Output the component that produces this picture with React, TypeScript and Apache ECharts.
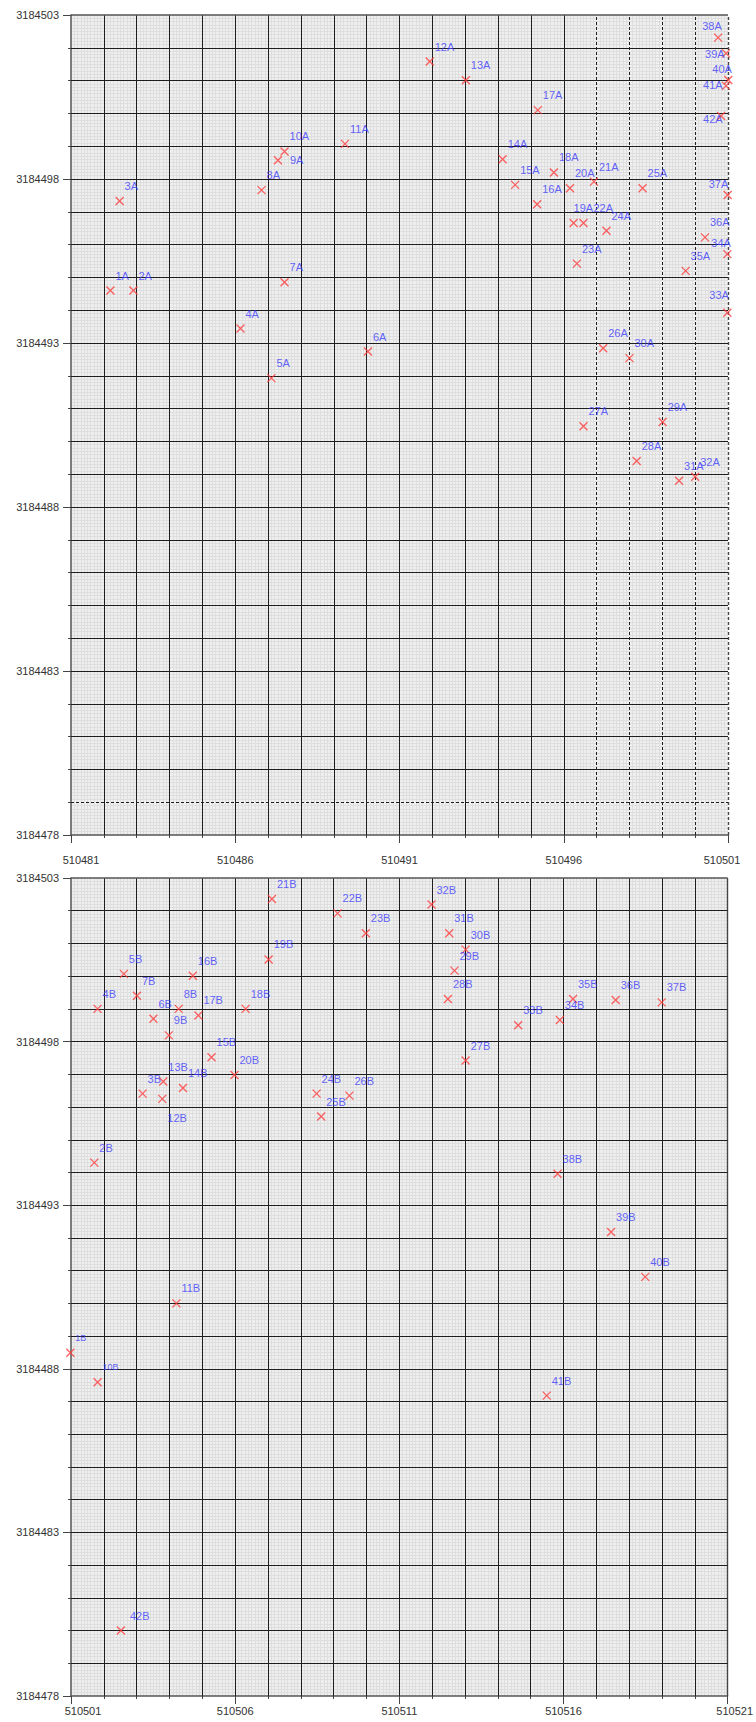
import React, { useEffect, useRef } from "react";
import * as echarts from "echarts";

// ---- Data ----
const topNames = ["1A","2A","3A","4A","5A","6A","7A","8A","9A","10A","11A","12A","13A","14A","15A","16A","17A","18A","19A","20A","21A","22A","23A","24A","25A","26A","27A","28A","29A","30A","31A","32A","33A","34A","35A","36A","37A","38A","39A","40A","41A","42A"];
const topX = [510482.20, 510482.90, 510482.48, 510486.16, 510487.10, 510490.04, 510487.50, 510486.80, 510487.30, 510487.50, 510489.34, 510491.92, 510493.02, 510494.14, 510494.52, 510495.19, 510495.21, 510495.70, 510496.30, 510496.19, 510496.92, 510496.60, 510496.40, 510497.30, 510498.40, 510497.20, 510496.60, 510498.22, 510499.01, 510498.00, 510499.51, 510500.00, 510500.98, 510500.98, 510499.71, 510500.30, 510500.99, 510500.70, 510500.94, 510501.01, 510500.94, 510500.79];
const topY = [3184494.60, 3184494.60, 3184497.33, 3184493.44, 3184491.93, 3184492.74, 3184494.85, 3184497.66, 3184498.57, 3184498.84, 3184499.07, 3184501.58, 3184501.01, 3184498.60, 3184497.82, 3184497.23, 3184500.10, 3184498.20, 3184496.66, 3184497.72, 3184497.92, 3184496.66, 3184495.42, 3184496.42, 3184497.72, 3184492.84, 3184490.46, 3184489.40, 3184490.59, 3184492.54, 3184488.80, 3184488.92, 3184493.92, 3184495.71, 3184495.20, 3184496.22, 3184497.51, 3184502.31, 3184501.83, 3184501.02, 3184500.84, 3184499.92];

const botNames = ["1B","2B","3B","4B","5B","6B","7B","8B","9B","10B","11B","12B","13B","14B","15B","16B","17B","18B","19B","20B","21B","22B","23B","24B","25B","26B","27B","28B","29B","30B","31B","32B","33B","34B","35B","36B","37B","38B","39B","40B","41B","42B"];
const botX = [510500.98, 510501.71, 510503.18, 510501.81, 510502.61, 510503.51, 510503.01, 510504.28, 510503.98, 510501.81, 510504.21, 510503.78, 510503.81, 510504.41, 510505.28, 510504.71, 510504.88, 510506.32, 510507.02, 510505.98, 510507.12, 510509.12, 510509.98, 510508.48, 510508.62, 510509.48, 510513.02, 510512.48, 510512.68, 510513.02, 510512.52, 510511.98, 510514.62, 510515.89, 510516.29, 510517.59, 510518.99, 510515.82, 510517.45, 510518.49, 510515.49, 510502.52];
const botY = [3184488.49, 3184494.30, 3184496.41, 3184499.00, 3184500.07, 3184498.70, 3184499.40, 3184499.00, 3184498.19, 3184487.59, 3184490.00, 3184496.25, 3184496.78, 3184496.58, 3184497.52, 3184500.01, 3184498.80, 3184499.00, 3184500.51, 3184496.98, 3184502.36, 3184501.92, 3184501.31, 3184496.41, 3184495.71, 3184496.35, 3184497.42, 3184499.30, 3184500.17, 3184500.81, 3184501.31, 3184502.19, 3184498.50, 3184498.66, 3184499.30, 3184499.27, 3184499.20, 3184493.96, 3184492.18, 3184490.81, 3184487.18, 3184480.00];

// axis ranges
const topXRange = [510481, 510501];
const botXRange = [510501, 510521];
const yRange = [3184478, 3184503];
const labelStep = 5;
// dashed grid lines in the upper panel
const topDashedX = [510497, 510498, 510499, 510500, 510501];
const topDashedY = [3184479];

// ---- Styles ----
const FONT = "Arial, 'Liberation Sans', sans-serif";
const LABEL_COLOR = "#3b3bff";
const MARK_COLOR = "#ff3b3b";
const DEFAULT_OFFSET = [5, -15];
const labelOffsets: Record<string, number[]> = {
  "9A": [12, 0],
  "19A": [0, -15],
  "22A": [10, -15],
  "33A": [-18, -18],
  "34A": [-16, -11],
  "37A": [-19, -11],
  "38A": [-16, -12],
  "39A": [-21, 1],
  "40A": [-16, -11],
  "41A": [-23, -1],
  "42A": [-18, 3],
  "12B": [5, 19],
  "42B": [9, -15],
};
const smallLabels: Record<string, number> = { "1B": 9, "10B": 9 };

const GRIDS = [
  { left: 71, top: 15, width: 657, height: 820 },
  { left: 71, top: 878, width: 659, height: 818 },
];

function buildPoints(names: string[], xs: number[], ys: number[]) {
  return names.map((n, i) => {
    const item: any = { name: n, value: [xs[i], ys[i]] };
    const off = labelOffsets[n];
    const fs = smallLabels[n];
    if (off || fs) {
      item.label = {};
      if (off) item.label.offset = off;
      if (fs) item.label.fontSize = fs;
    }
    return item;
  });
}

function gridLines(xr: number[], yr: number[], dashedX: number[], dashedY: number[]) {
  const lines: any[] = [];
  for (let v = xr[0] + 1; v <= xr[1]; v++) {
    const dashed = dashedX.indexOf(v) >= 0;
    const border = v === xr[1];
    lines.push({
      xAxis: v,
      lineStyle: {
        color: border ? "#444" : "#1e1e1e",
        width: border ? 1.4 : 1,
        type: dashed ? [3, 2] : "solid",
      },
    });
  }
  for (let v = yr[0] + 1; v <= yr[1]; v++) {
    const dashed = dashedY.indexOf(v) >= 0;
    const border = v === yr[1];
    lines.push({
      yAxis: v,
      lineStyle: {
        color: border ? "#555" : "#1e1e1e",
        width: border ? 1.6 : 1,
        type: dashed ? [3, 2] : "solid",
      },
    });
  }
  return lines;
}

const MINOR = { show: true, lineStyle: { color: "#dedede", width: 1 } };

function mainXAxis(gridIndex: number, range: number[], margin: number, rich: any) {
  return {
    type: "value",
    gridIndex,
    position: "bottom",
    min: range[0],
    max: range[1],
    interval: 1,
    axisLine: { show: true, onZero: false, lineStyle: { color: "#555", width: 1.5 } },
    axisTick: { show: true, length: 3, lineStyle: { color: "#444", width: 1 } },
    axisLabel: {
      margin,
      fontSize: 11,
      fontFamily: FONT,
      color: "#333",
      formatter: (v: number) => {
        const r = Math.round(v);
        if ((r - range[0]) % labelStep !== 0) return "";
        if (r === range[0]) return "{l|" + r + "}";
        if (r === range[1]) return "{r|" + r + "}";
        return String(r);
      },
      rich,
    },
    splitLine: { show: false },
    minorTick: { show: false, splitNumber: 10 },
    minorSplitLine: MINOR,
  };
}

function longXAxis(gridIndex: number, range: number[]) {
  return {
    type: "value",
    gridIndex,
    position: "bottom",
    min: range[0],
    max: range[1],
    interval: labelStep,
    axisLine: { show: false, onZero: false },
    axisTick: { show: true, length: 8, lineStyle: { color: "#444", width: 1 } },
    axisLabel: { show: false },
    splitLine: { show: false },
  };
}

function mainYAxis(gridIndex: number) {
  return {
    type: "value",
    gridIndex,
    position: "left",
    min: yRange[0],
    max: yRange[1],
    interval: 1,
    axisLine: { show: true, onZero: false, lineStyle: { color: "#555", width: 1.5 } },
    axisTick: { show: true, length: 3, lineStyle: { color: "#444", width: 1 } },
    axisLabel: {
      margin: 12,
      fontSize: 11,
      fontFamily: FONT,
      color: "#333",
      formatter: (v: number) => {
        const r = Math.round(v);
        return (r - yRange[0]) % labelStep === 0 ? String(r) : "";
      },
    },
    splitLine: { show: false },
    minorTick: { show: false, splitNumber: 10 },
    minorSplitLine: MINOR,
  };
}

function longYAxis(gridIndex: number) {
  return {
    type: "value",
    gridIndex,
    position: "left",
    min: yRange[0],
    max: yRange[1],
    interval: labelStep,
    axisLine: { show: false, onZero: false },
    axisTick: { show: true, length: 8, lineStyle: { color: "#444", width: 1 } },
    axisLabel: { show: false },
    splitLine: { show: false },
  };
}

function scatterSeries(xi: number, yi: number, data: any[]) {
  return {
    type: "scatter",
    xAxisIndex: xi,
    yAxisIndex: yi,
    z: 5,
    clip: false,
    silent: true,
    symbol: "path://M0,0L10,10M10,0L0,10",
    symbolSize: 8,
    itemStyle: { color: "none", borderColor: MARK_COLOR, borderWidth: 1.3 },
    label: {
      show: true,
      position: "inside",
      align: "left",
      verticalAlign: "middle",
      offset: DEFAULT_OFFSET,
      formatter: "{b}",
      color: LABEL_COLOR,
      fontSize: 11,
      fontFamily: FONT,
    },
    data,
  };
}

function lineSeries(xi: number, yi: number, lines: any[]) {
  return {
    type: "scatter",
    xAxisIndex: xi,
    yAxisIndex: yi,
    z: 1,
    silent: true,
    data: [],
    markLine: {
      silent: true,
      symbol: ["none", "none"],
      label: { show: false },
      emphasis: { disabled: true },
      animation: false,
      data: lines,
    },
  };
}

export default function App() {
  const ref = useRef<HTMLDivElement>(null);
  useEffect(() => {
    if (!ref.current) return;
    const chart = echarts.init(ref.current, null, { renderer: "svg" });
    const bg = "#efefef";
    chart.setOption({
      animation: false,
      backgroundColor: "#ffffff",
      grid: GRIDS.map((g) => ({ ...g, show: true, backgroundColor: bg, borderWidth: 0 })),
      xAxis: [
        mainXAxis(0, topXRange, 19, {
          l: { padding: [0, 0, 0, 20], fontSize: 11, fontFamily: FONT, color: "#333" },
          r: { padding: [0, 12, 0, 0], fontSize: 11, fontFamily: FONT, color: "#333" },
        }),
        longXAxis(0, topXRange),
        mainXAxis(1, botXRange, 9, {
          l: { padding: [0, 0, 0, 24], fontSize: 11, fontFamily: FONT, color: "#333" },
          r: { padding: [0, 0, 0, 14], fontSize: 11, fontFamily: FONT, color: "#333" },
        }),
        longXAxis(1, botXRange),
      ],
      yAxis: [mainYAxis(0), longYAxis(0), mainYAxis(1), longYAxis(1)],
      series: [
        lineSeries(0, 0, gridLines(topXRange, yRange, topDashedX, topDashedY)),
        lineSeries(2, 2, gridLines(botXRange, yRange, [], [])),
        scatterSeries(0, 0, buildPoints(topNames, topX, topY)),
        scatterSeries(2, 2, buildPoints(botNames, botX, botY)),
      ],
    });
    return () => chart.dispose();
  }, []);
  return (
    <div
      ref={ref}
      style={{ position: "absolute", left: 0, top: 0, width: 756, height: 1722 }}
    />
  );
}
